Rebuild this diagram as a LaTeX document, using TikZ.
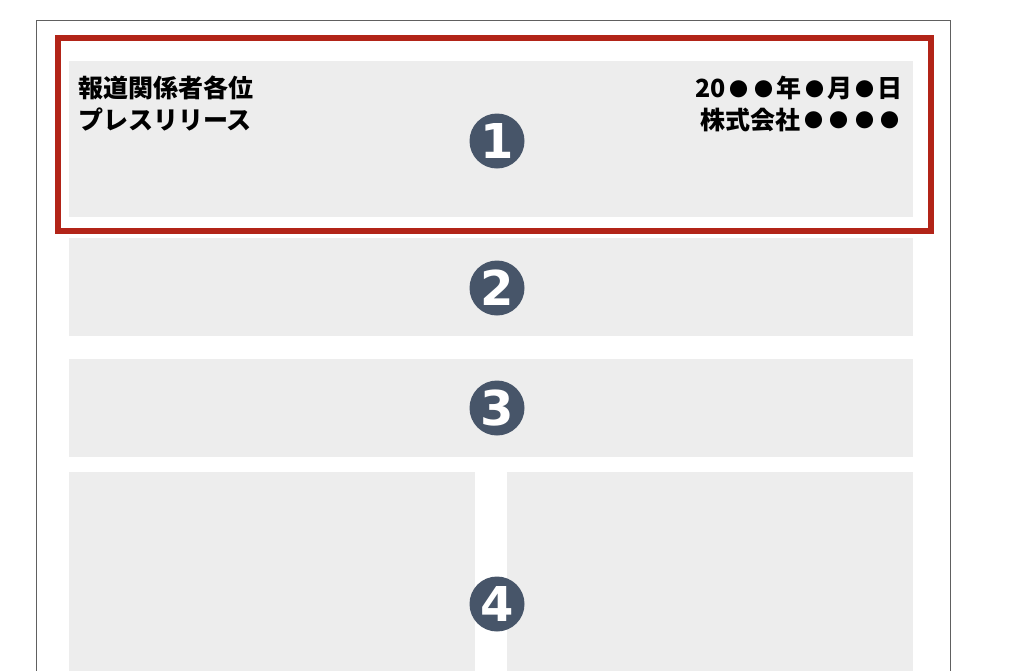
\documentclass[tikz,border=0pt]{standalone}
\usepackage{fontspec}
\newfontfamily\jp{Noto Sans CJK JP}
\newfontfamily\numf{DejaVu Sans}
\definecolor{boxgray}{HTML}{EDEDED}
\definecolor{framered}{HTML}{B22418}
\definecolor{badge}{HTML}{475569}
\definecolor{pageline}{HTML}{606060}
\newcommand{\mybul}{\makebox[25.5pt]{\raisebox{1.6pt}{\fontsize{19}{19}\selectfont ●}}}
\tikzset{
  graybox/.style={fill=boxgray, draw=none, anchor=north west, inner sep=0pt},
  badgenode/.style={circle, fill=badge, text=white, minimum size=55pt, inner sep=0pt,
    font=\numf\bfseries\fontsize{48}{48}\selectfont},
  jptext/.style={inner sep=0pt, font=\jp\bfseries\fontsize{25}{31.5}\selectfont}
}
\begin{document}
\begin{tikzpicture}[x=1pt,y=-1pt]
\useasboundingbox (0,0) rectangle (1014,670);
\clip (0,0) rectangle (1014,670);
\fill[white] (0,0) rectangle (1014,670);
% page
\draw[pageline, line width=1pt] (36,700) -- (36,20.5) -- (950.5,20.5) -- (950.5,700);
% gray boxes
\node[graybox, minimum width=844pt, minimum height=156pt] (b1) at (69,61) {};
\node[graybox, minimum width=844pt, minimum height=98pt] (b2) at (69,238) {};
\node[graybox, minimum width=844pt, minimum height=98pt] (b3) at (69,359) {};
\node[graybox, minimum width=406pt, minimum height=230pt] (b4l) at (69,472) {};
\node[graybox, minimum width=406pt, minimum height=230pt] (b4r) at (507,472) {};
% red frame
\draw[framered, line width=6pt] (58,38) rectangle (931,231);
% texts
\node[jptext, anchor=north west, align=left] (lt) at (78,76) {報道関係者各位\\プレスリリース};
\node[jptext, anchor=north east, align=right] (rt) at (903,76) {20\mybul\mybul 年\mybul 月\mybul 日\\株式会社\mybul\mybul\mybul\mybul};
% badges
\node[badgenode] (n1) at (497,141) {1};
\node[badgenode] (n2) at (497,288) {2};
\node[badgenode] (n3) at (497,408) {3};
\node[badgenode] (n4) at (497,604) {4};
\end{tikzpicture}
\end{document}
